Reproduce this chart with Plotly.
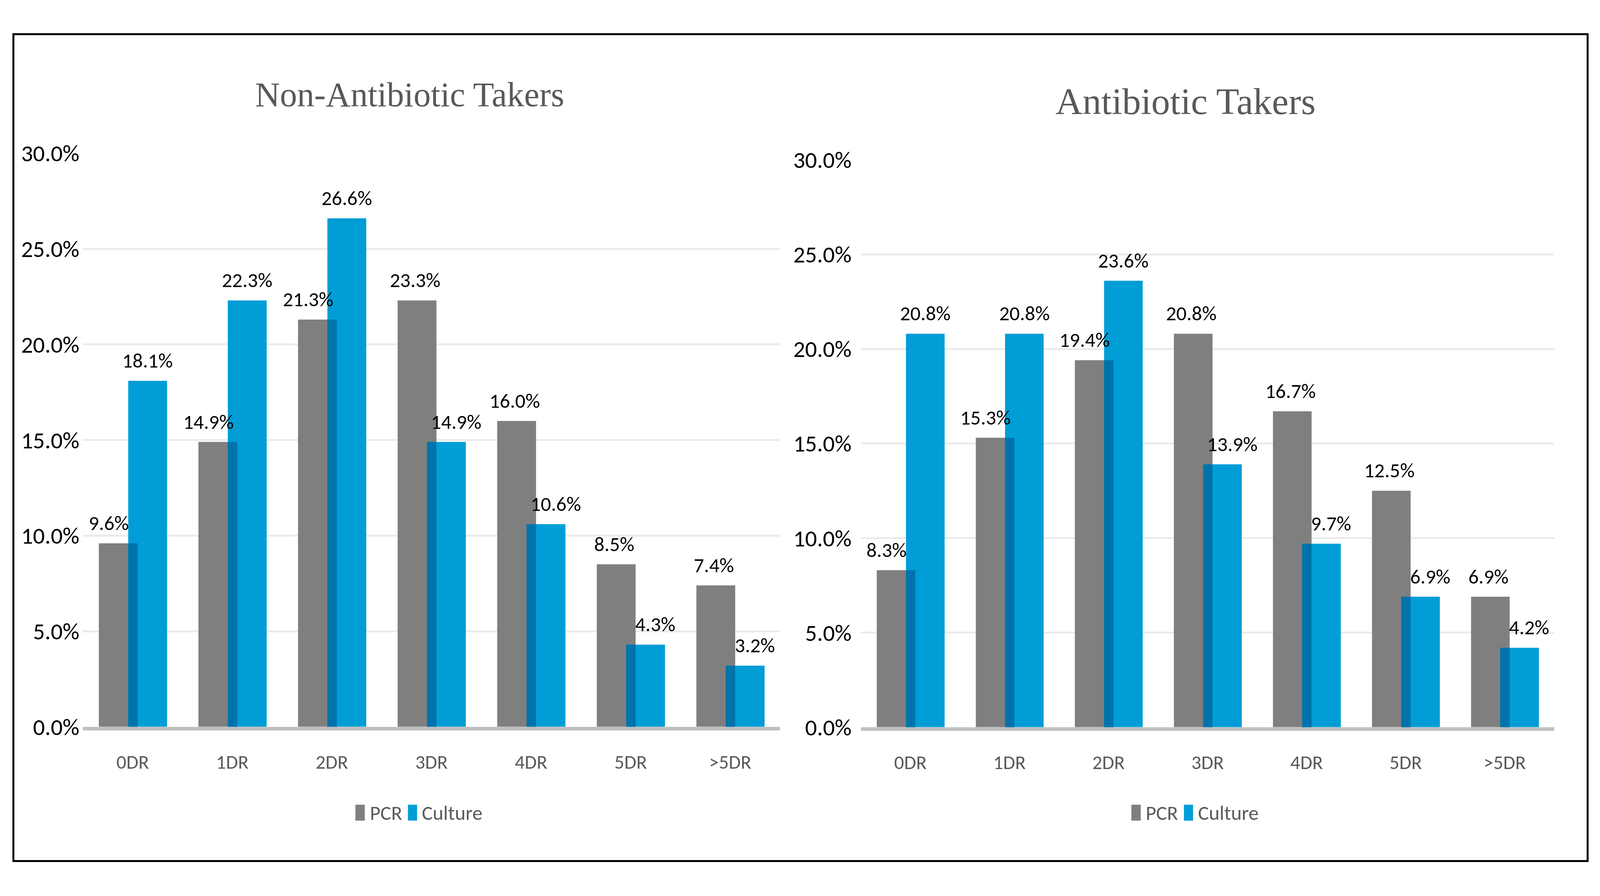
import plotly.graph_objects as go

# ---------------- data ----------------
categories = ["0DR", "1DR", "2DR", "3DR", "4DR", "5DR", ">5DR"]

pcr_non = [9.6, 14.9, 21.3, 22.3, 16.0, 8.5, 7.4]
pcr_non_labels = ["9.6%", "14.9%", "21.3%", "23.3%", "16.0%", "8.5%", "7.4%"]
culture_non = [18.1, 22.3, 26.6, 14.9, 10.6, 4.3, 3.2]
culture_non_labels = ["18.1%", "22.3%", "26.6%", "14.9%", "10.6%", "4.3%", "3.2%"]

pcr_abx = [8.3, 15.3, 19.4, 20.8, 16.7, 12.5, 6.9]
pcr_abx_labels = ["8.3%", "15.3%", "19.4%", "20.8%", "16.7%", "12.5%", "6.9%"]
culture_abx = [20.8, 20.8, 23.6, 13.9, 9.7, 6.9, 4.2]
culture_abx_labels = ["20.8%", "20.8%", "23.6%", "13.9%", "9.7%", "6.9%", "4.2%"]

titles = ["Non-Antibiotic Takers", "Antibiotic Takers"]
series_names = ["PCR", "Culture"]
y_ticks = [0, 5, 10, 15, 20, 25, 30]

# ---------------- geometry ----------------
# layout designed in reference pixels (6330 x 2294), mapped to the real viewport
REF_W, REF_H = 6330, 2294
VIEW_W, VIEW_H = 4096, 2294
SX = VIEW_W / REF_W          # horizontal scale
OFF = 8                      # body margin
FW, FH = VIEW_W - 2 * OFF, VIEW_H - 2 * OFF

def fx(x):
    return (x * SX - OFF) / FW

def fy(y):
    return 1 - (y - OFF) / FH

GRAY = "#7F7F7F"
BLUE = "#009DD6"
DARK_BLUE = "#0073AB"
TEXT_GRAY = "#595959"
SANS = "Carlito, Calibri, Open Sans, Liberation Sans, sans-serif"
SERIF = "Liberation Serif, Times New Roman, serif"

PCR_OFF, BAR_W = -0.34, 0.39
CUL_OFF = -0.045
OVL_W = PCR_OFF + BAR_W - CUL_OFF

panels = [
    dict(xa="x", ya="y", xd=[328, 3086], yd=[1885, 368],
         pcr=pcr_non, pcrl=pcr_non_labels, cul=culture_non, cull=culture_non_labels,
         title_x=1620, title_y=213, title_size=88, legend_dx=0, standoff=8),
    dict(xa="x2", ya="y2", xd=[3406, 6149], yd=[1886, 385],
         pcr=pcr_abx, pcrl=pcr_abx_labels, cul=culture_abx, cull=culture_abx_labels,
         title_x=4690, title_y=231, title_size=96, legend_dx=3070, standoff=23),
]

x_idx = list(range(len(categories)))
fig = go.Figure()
annotations = []
shapes = []

for k, p in enumerate(panels):
    overlap = [min(a, b) for a, b in zip(p["pcr"], p["cul"])]
    fig.add_trace(go.Bar(x=x_idx, y=p["pcr"], name=series_names[0], xaxis=p["xa"], yaxis=p["ya"],
                         offset=PCR_OFF, width=BAR_W, marker=dict(color=GRAY, line=dict(width=0)),
                         showlegend=False, hoverinfo="skip"))
    fig.add_trace(go.Bar(x=x_idx, y=p["cul"], name=series_names[1], xaxis=p["xa"], yaxis=p["ya"],
                         offset=CUL_OFF, width=BAR_W, marker=dict(color=BLUE, line=dict(width=0)),
                         showlegend=False, hoverinfo="skip"))
    fig.add_trace(go.Bar(x=x_idx, y=overlap, name="overlap", xaxis=p["xa"], yaxis=p["ya"],
                         offset=CUL_OFF, width=OVL_W, marker=dict(color=DARK_BLUE, line=dict(width=0)),
                         showlegend=False, hoverinfo="skip"))

    for i in x_idx:
        a, b = p["pcr"][i], p["cul"][i]
        pcr_shift = (-38 if a < b else -8) * SX
        cul_shift = (38 if b < a else 0) * SX
        annotations.append(dict(x=i + PCR_OFF + BAR_W / 2, y=a, xref=p["xa"], yref=p["ya"],
                                text=p["pcrl"][i], showarrow=False, xshift=pcr_shift, yshift=52,
                                yanchor="middle", font=dict(family=SANS, size=52, color="#000000")))
        annotations.append(dict(x=i + CUL_OFF + BAR_W / 2, y=b, xref=p["xa"], yref=p["ya"],
                                text=p["cull"][i], showarrow=False, xshift=cul_shift, yshift=52,
                                yanchor="middle", font=dict(family=SANS, size=52, color="#000000")))

    annotations.append(dict(x=fx(p["title_x"]), y=fy(p["title_y"]), xref="paper", yref="paper",
                            text=titles[k], showarrow=False, xanchor="center", yanchor="middle",
                            font=dict(family=SERIF, size=p["title_size"], color=TEXT_GRAY)))

    dx = p["legend_dx"]
    leg_y0, leg_y1 = 2091, 2133
    for (mx0, mx1, tx, name, col) in [(1406, 1443, 1460, series_names[0], GRAY),
                                       (1614, 1650, 1666, series_names[1], BLUE)]:
        shapes.append(dict(type="rect", xref="paper", yref="paper",
                           x0=fx(mx0 + dx), x1=fx(mx1 + dx), y0=fy(leg_y1), y1=fy(leg_y0),
                           fillcolor=col, line=dict(width=0)))
        annotations.append(dict(x=fx(tx + dx), y=fy((leg_y0 + leg_y1) / 2), xref="paper", yref="paper",
                                text=name, showarrow=False, xanchor="left", yanchor="middle",
                                font=dict(family=SANS, size=52, color=TEXT_GRAY)))

shapes.append(dict(type="rect", xref="paper", yref="paper",
                   x0=fx(53), x1=fx(6281), y0=fy(2240), y1=fy(53),
                   line=dict(color="#000000", width=5), fillcolor="rgba(0,0,0,0)", layer="above"))

def xaxis_cfg(p):
    return dict(domain=[fx(p["xd"][0]), fx(p["xd"][1])], range=[-0.5, len(categories) - 0.5],
                tickmode="array", tickvals=x_idx, ticktext=categories, showgrid=False, zeroline=False,
                showline=True, linecolor="#BFBFBF", linewidth=9, ticks="", ticklabelstandoff=38,
                tickfont=dict(family=SANS, size=50, color=TEXT_GRAY), anchor=p["ya"], fixedrange=True)

def yaxis_cfg(p):
    return dict(domain=[fy(p["yd"][0]), fy(p["yd"][1])], range=[0, 30], tickmode="array",
                tickvals=y_ticks, ticktext=[f"{v:.1f}%" for v in y_ticks], showgrid=True,
                gridcolor="#EBEBEB", gridwidth=5, zeroline=False, showline=False, ticks="",
                ticklabelstandoff=p["standoff"], tickfont=dict(family=SANS, size=60, color="#000000"),
                anchor=p["xa"], fixedrange=True)

fig.update_layout(
    width=FW, height=FH, autosize=False,
    margin=dict(l=0, r=0, t=0, b=0, pad=0),
    paper_bgcolor="#FFFFFF", plot_bgcolor="#FFFFFF",
    barmode="overlay", showlegend=False,
    xaxis=xaxis_cfg(panels[0]), yaxis=yaxis_cfg(panels[0]),
    xaxis2=xaxis_cfg(panels[1]), yaxis2=yaxis_cfg(panels[1]),
    annotations=annotations, shapes=shapes,
)

fig.write_html("out.html")
